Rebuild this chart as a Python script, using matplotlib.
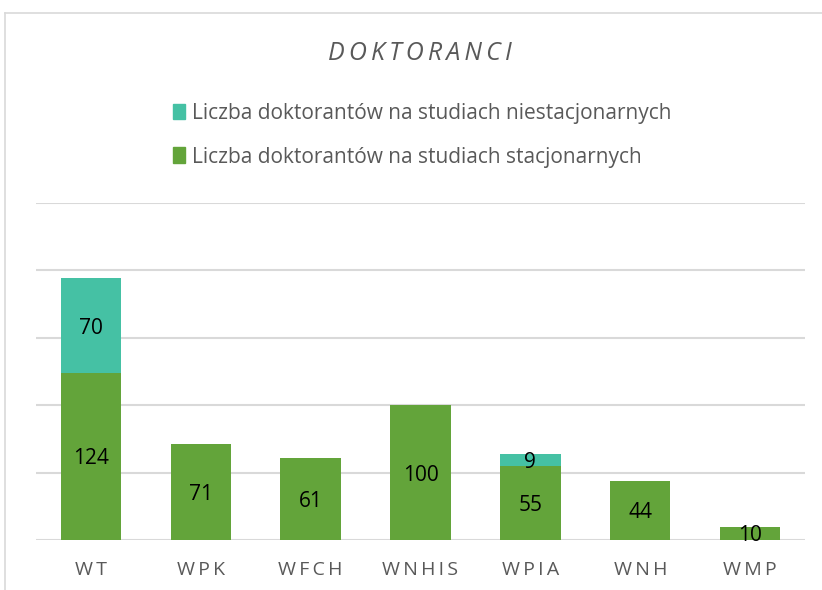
import matplotlib.pyplot as plt
from matplotlib.patches import Patch
from matplotlib.lines import Line2D

categories = ["WT", "WPK", "WFCH", "WNHIS", "WPIA", "WNH", "WMP"]
stacjonarne = [124, 71, 61, 100, 55, 44, 10]
niestacjonarne = [70, 0, 0, 0, 9, 0, 0]
label_stac = "Liczba doktorantów na studiach stacjonarnych"
label_niestac = "Liczba doktorantów na studiach niestacjonarnych"

GREEN = "#63A43A"
TEAL = "#45C1A4"
GRAY = "#595959"

plt.rcParams['font.family'] = ['Liberation Sans Narrow', 'Open Sans', 'DejaVu Sans']

W, H = 822, 590
fig = plt.figure(figsize=(W / 100, H / 100), dpi=100)
ax = fig.add_axes([36 / W, 1 - 540 / H, (805 - 36) / W, (540 - 203) / H])

x = range(len(categories))
ax.bar(x, stacjonarne, width=0.55, color=GREEN, zorder=3)
ax.bar(x, niestacjonarne, width=0.55, bottom=stacjonarne, color=TEAL, zorder=3)

for i, (s, n) in enumerate(zip(stacjonarne, niestacjonarne)):
    ax.text(i, s / 2, str(s), ha='center', va='center_baseline', fontsize=15, color='black', zorder=4)
    if n:
        ax.text(i, s + n / 2, str(n), ha='center', va='center_baseline', fontsize=15, color='black', zorder=4)

ax.set_xlim(-0.5, len(categories) - 0.5)
ax.set_ylim(0, 250)
ax.set_yticks(range(0, 251, 50))
ax.yaxis.grid(True, color='#D9D9D9', linewidth=1.5, zorder=0)
ax.tick_params(axis='y', left=False, labelleft=False)
ax.tick_params(axis='x', length=0, pad=15)
ax.set_xticks(list(x))
ax.set_xticklabels(["\u2009".join(c) for c in categories], fontsize=14, color=GRAY)
for s in ax.spines.values():
    s.set_visible(False)

fig.text(420 / W, 1 - 53 / H, "\u2009".join("DOKTORANCI"), ha='center', va='center',
         fontsize=18, style='italic', color=GRAY)

handles = [Patch(color=TEAL, label=label_niestac), Patch(color=GREEN, label=label_stac)]
fig.legend(handles=handles, loc='upper center', bbox_to_anchor=(422 / W, 1 - 84 / H),
           frameon=False, fontsize=15, labelcolor=GRAY, handlelength=0.6, handleheight=0.8,
           handletextpad=0.3, labelspacing=1.1)

fig.add_artist(Line2D([5 / W, 5 / W], [0, 1 - 13 / H], color='#D9D9D9', linewidth=1.2))
fig.add_artist(Line2D([5 / W, 1], [1 - 13 / H, 1 - 13 / H], color='#D9D9D9', linewidth=1.2))

fig.savefig("out.png", dpi=100)
